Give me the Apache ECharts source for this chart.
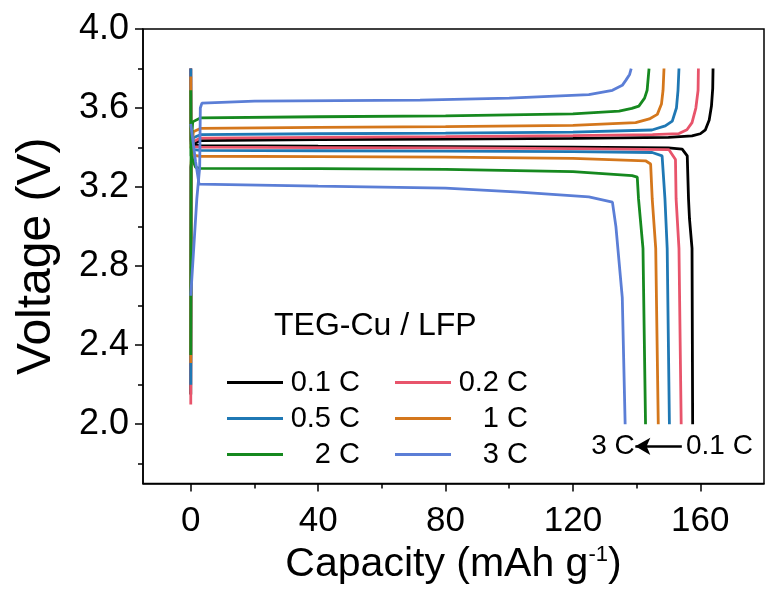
<!DOCTYPE html>
<html>
<head>
<meta charset="utf-8">
<script src="https://cdn.jsdelivr.net/npm/echarts@6/dist/echarts.min.js"></script>
<style>html,body{margin:0;padding:0;background:#fff}#c{width:766px;height:590px}</style>
</head>
<body>
<div id="c"></div>
<script>
// ---------- data ----------
const rates = ['0.1 C', '0.2 C', '0.5 C', '1 C', '2 C', '3 C'];
const colors = ['#000000', '#E8546B', '#1F78B4', '#D4771C', '#16891F', '#5B7ED6'];

// charge curves [capacity, voltage]
const charge01 = [[0,2.15],[0.1,3.3],[0.8,3.42],[3,3.435],[40,3.44],[80,3.443],[120,3.447],[150,3.452],[157.4,3.459],[160,3.47],[161.6,3.49],[162.8,3.54],[163.5,3.61],[163.9,3.7],[164,3.8]];
const charge02 = [[0,2.1],[0.1,3.3],[0.8,3.43],[3,3.448],[40,3.452],[80,3.455],[120,3.46],[145,3.465],[153.3,3.471],[155.8,3.49],[157.4,3.526],[158.6,3.6],[159.3,3.69],[159.4,3.8]];
const charge05 = [[0,2.2],[0.1,3.3],[0.8,3.45],[3,3.465],[40,3.47],[80,3.473],[120,3.478],[144.8,3.489],[149,3.51],[151.2,3.534],[152.5,3.6],[153,3.69],[153.3,3.8]];
const charge1 = [[0,2.31],[0.1,3.32],[0.8,3.48],[3,3.497],[40,3.502],[80,3.506],[120,3.512],[139.7,3.526],[144,3.545],[146.5,3.568],[147.8,3.62],[148.3,3.69],[148.6,3.8]];
const charge2 = [[0,2.35],[0.1,3.4],[0.6,3.53],[3,3.55],[40,3.556],[80,3.56],[120,3.57],[134.5,3.584],[138.5,3.598],[140.7,3.61],[142.5,3.65],[143.3,3.69],[143.9,3.8]];
const charge3 = [[0,2.65],[1.9,3.14],[2.8,3.3],[3,3.6],[3.5,3.625],[20,3.635],[72,3.64],[100,3.65],[125,3.668],[132.4,3.69],[135.5,3.715],[136.6,3.74],[137.8,3.77],[138.3,3.8]];

// discharge curves [capacity, voltage]
const dis01 = [[0,3.8],[0.05,3.44],[1,3.415],[3,3.41],[40,3.407],[80,3.405],[120,3.402],[150,3.398],[154.3,3.392],[155.9,3.358],[156.3,3.14],[156.6,3.04],[157.4,2.89],[157.6,2.0]];
const dis02 = [[0,3.8],[0.05,3.43],[1,3.405],[3,3.402],[40,3.4],[80,3.398],[120,3.395],[150.1,3.39],[152.2,3.34],[152.4,3.14],[153.3,2.89],[154,2.0]];
const dis05 = [[0,3.8],[0.05,3.42],[1,3.39],[3,3.386],[40,3.384],[80,3.382],[120,3.379],[144.9,3.375],[148,3.358],[148.9,3.14],[149.6,2.89],[150.3,2.0]];
const dis1 = [[0,3.76],[0.05,3.4],[1,3.36],[3,3.356],[40,3.354],[80,3.352],[120,3.345],[142.8,3.333],[144.4,3.317],[144.9,3.14],[146,2.89],[146.8,2.0]];
const dis2 = [[0,3.69],[0.1,3.36],[1.5,3.3],[3,3.295],[40,3.293],[80,3.29],[120,3.278],[138.6,3.258],[140.2,3.25],[140.6,3.14],[142,2.89],[142.8,2.0]];
const dis3 = [[0,3.52],[1.5,3.33],[2.6,3.215],[3,3.21],[40,3.205],[80,3.195],[103.2,3.174],[125,3.15],[132.4,3.124],[133.5,3.0],[135.5,2.64],[136.4,2.0]];

const chargeSets = [charge01, charge02, charge05, charge1, charge2, charge3];
const dischargeSets = [dis01, dis02, dis05, dis1, dis2, dis3];

// axis ticks
const xMajor = [0, 40, 80, 120, 160];
const xMinor = [20, 60, 100, 140];
const yMajor = [2.0, 2.4, 2.8, 3.2, 3.6, 4.0];
const yMinor = [1.8, 2.2, 2.6, 3.0, 3.4, 3.8];

// annotation
const arrowFrom = [154.2, 1.888];
const arrowTo = [139.6, 1.888];
const annoLabels = [[132.6, 1.888, '3 C'], [166, 1.888, '0.1 C']];
const legendTitle = 'TEG-Cu / LFP';

// ---------- chart ----------
const FONT = '"Liberation Sans", Arial, sans-serif';
const chart = echarts.init(document.getElementById('c'), null, {renderer: 'canvas'});

const series = [];
rates.forEach((r, i) => {
  series.push({
    name: r, type: 'line', data: chargeSets[i], showSymbol: false, symbol: 'none',
    lineStyle: {color: colors[i], width: 2.8}, itemStyle: {color: colors[i]}, z: 2 + i, animation: false
  });
  series.push({
    name: r, type: 'line', data: dischargeSets[i], showSymbol: false, symbol: 'none',
    lineStyle: {color: colors[i], width: 2.8}, itemStyle: {color: colors[i]}, z: 2 + i, animation: false
  });
});
// arrow annotation
series.push({
  type: 'scatter', data: annoLabels, symbolSize: 0, silent: true, animation: false,
  itemStyle: {opacity: 1, color: '#000'},
  label: {show: true, formatter: p => p.data[2], color: '#000', opacity: 1, fontSize: 28, fontFamily: FONT, position: 'inside'},
  markLine: {
    silent: true, animation: false, symbol: ['none', 'arrow'], symbolSize: [13, 15],
    lineStyle: {color: '#000', width: 2.5, type: 'solid', opacity: 1}, label: {show: false},
    data: [[{coord: arrowFrom}, {coord: arrowTo}]]
  }
});

const legendCommon = {
  orient: 'vertical', itemWidth: 56, itemHeight: 3, icon: 'rect', itemGap: 7,
  selectedMode: false,
  formatter: n => '{a|' + n + '}'
};
const legendText = {color: '#000', fontSize: 28, fontFamily: FONT, lineHeight: 29,
  rich: {a: {width: 72, align: 'right', fontSize: 29, fontFamily: FONT, color: '#000'}}};

const option = {
  animation: false,
  backgroundColor: '#fff',
  title: {text: legendTitle, left: 269, top: 305, textStyle: {fontSize: 32, fontWeight: 'normal', color: '#000', fontFamily: FONT}},
  legend: [
    Object.assign({}, legendCommon, {data: ['0.1 C', '0.5 C', '2 C'], left: 222, top: 363, textStyle: legendText}),
    Object.assign({}, legendCommon, {data: ['0.2 C', '1 C', '3 C'], left: 390, top: 363, textStyle: legendText})
  ],
  grid: {left: 143, right: 2, top: 29, bottom: 103, show: true, borderColor: '#000', borderWidth: 1.5, backgroundColor: 'transparent'},
  xAxis: [{
    type: 'value', min: -15, max: 180,
    name: 'Capacity (mAh g{sup|-1})', nameLocation: 'middle', nameGap: 60,
    nameTextStyle: {color: '#000', fontSize: 41, fontFamily: FONT, rich: {sup: {fontSize: 22, verticalAlign: 'top', padding: [0, 0, 20, 0], fontFamily: FONT, color: '#000'}}},
    axisLine: {show: true, onZero: false, lineStyle: {color: '#000', width: 1.5}},
    axisTick: {show: true, inside: false, length: 8, lineStyle: {color: '#000', width: 1.5}, customValues: xMajor},
    axisLabel: {show: true, customValues: xMajor, color: '#000', fontSize: 35, fontFamily: FONT, margin: 20},
    splitLine: {show: false}
  }, {
    type: 'value', min: -15, max: 180, position: 'bottom', offset: 0,
    axisLine: {show: false, onZero: false}, axisLabel: {show: false}, splitLine: {show: false},
    axisTick: {show: true, length: 5, lineStyle: {color: '#000', width: 1.5}, customValues: xMinor}
  }],
  yAxis: [{
    type: 'value', min: 1.7, max: 4.0,
    name: 'Voltage (V)', nameLocation: 'middle', nameGap: 82,
    nameTextStyle: {color: '#000', fontSize: 48, fontFamily: FONT},
    axisLine: {show: true, onZero: false, lineStyle: {color: '#000', width: 1.5}},
    axisTick: {show: true, length: 8, lineStyle: {color: '#000', width: 1.5}, customValues: yMajor},
    axisLabel: {show: true, customValues: yMajor, color: '#000', fontSize: 36, fontFamily: FONT, margin: 14, formatter: v => v.toFixed(1)},
    splitLine: {show: false}
  }, {
    type: 'value', min: 1.7, max: 4.0, position: 'left', offset: 0,
    axisLine: {show: false, onZero: false}, axisLabel: {show: false}, splitLine: {show: false},
    axisTick: {show: true, length: 5, lineStyle: {color: '#000', width: 1.5}, customValues: yMinor}
  }],
  series: series
};
chart.setOption(option);
</script>
</body>
</html>
